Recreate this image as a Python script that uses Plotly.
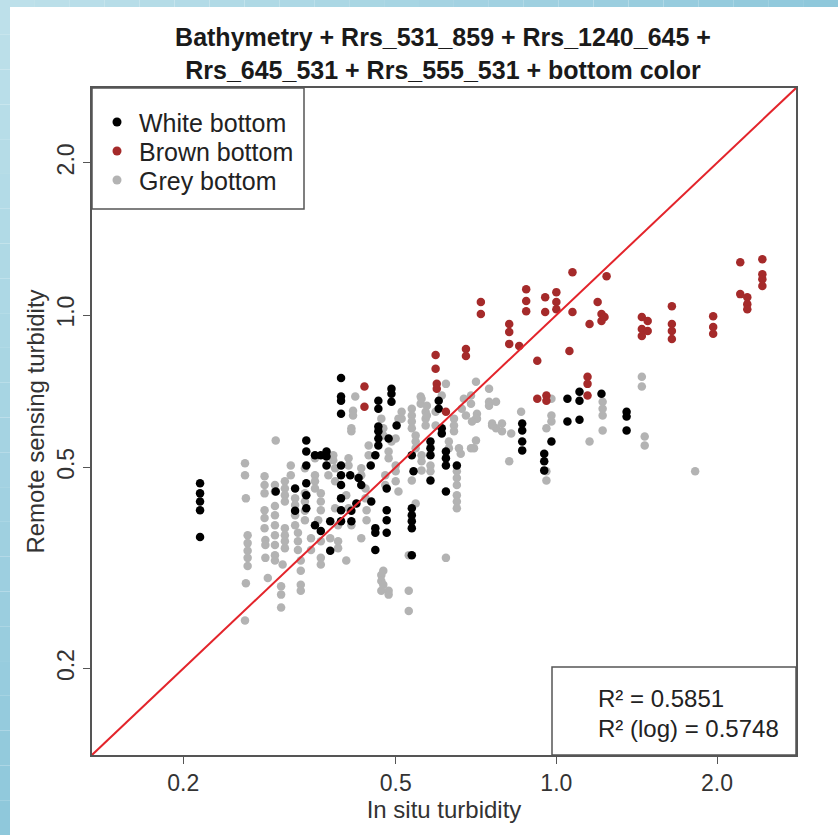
import plotly.graph_objects as go

# ---------------- data ----------------
white_x = [0.215, 0.215, 0.215, 0.215, 0.215,
           0.395, 0.395, 0.395, 0.395,
           0.464, 0.464,
           0.491, 0.491, 0.491,
           0.464, 0.464, 0.464, 0.464,
           0.340, 0.340, 0.340, 0.353, 0.362, 0.371, 0.371, 0.371,
           0.395, 0.395, 0.395,
           0.411, 0.426, 0.431,
           0.449, 0.458,
           0.485, 0.502,
           0.536, 0.540,
           0.581, 0.581, 0.581, 0.581,
           0.602, 0.602,
           0.610, 0.610,
           0.621, 0.621, 0.621, 0.621,
           0.651,
           0.298, 0.324, 0.324,
           0.340, 0.340, 0.340,
           0.353, 0.362, 0.377,
           0.395, 0.395, 0.395,
           0.413, 0.413, 0.422, 0.450,
           0.458, 0.458,
           0.481, 0.481, 0.481, 0.481,
           0.536, 0.536, 0.536, 0.536,
           0.377, 0.458, 0.536,
           0.863, 0.863, 0.863, 0.863,
           0.979,
           0.949, 0.949, 0.949,
           1.049, 1.049,
           1.105, 1.105, 1.105,
           1.215,
           1.354, 1.354, 1.354]
white_y = [0.465, 0.444, 0.428, 0.411, 0.364,
           0.751, 0.690, 0.677, 0.638,
           0.677, 0.653,
           0.715, 0.699, 0.674,
           0.602, 0.589, 0.570, 0.552,
           0.565, 0.537, 0.504, 0.528, 0.528, 0.537, 0.525, 0.504,
           0.504, 0.482, 0.461,
           0.482, 0.476, 0.461,
           0.504, 0.528,
           0.570, 0.605,
           0.528, 0.491,
           0.562, 0.545, 0.528, 0.471,
           0.677, 0.653,
           0.597, 0.583,
           0.537, 0.521, 0.504, 0.448,
           0.504,
           0.448, 0.454, 0.410,
           0.465, 0.440, 0.415,
           0.384, 0.374, 0.391,
           0.434, 0.411, 0.391,
           0.410, 0.391, 0.424, 0.428,
           0.379, 0.371,
           0.411, 0.393, 0.371, 0.454,
           0.415, 0.402, 0.391, 0.379,
           0.342, 0.343, 0.335,
           0.610, 0.591, 0.562, 0.540,
           0.562,
           0.532, 0.514, 0.493,
           0.683, 0.616,
           0.705, 0.677, 0.621,
           0.699,
           0.644, 0.630, 0.591]

brown_x = [0.437, 0.437, 0.594, 0.594, 0.597, 0.597, 0.621,
           0.677, 0.677, 0.722, 0.722,
           0.816, 0.816, 0.816, 0.852,
           0.878, 0.878, 0.878, 0.953, 0.953,
           1.000, 1.000, 1.000, 1.072, 1.072,
           1.242, 1.195, 1.154, 1.215, 1.215, 1.231,
           0.921, 1.058, 1.144, 1.144, 1.144,
           1.446, 1.446, 1.446, 1.483, 1.483,
           1.646, 1.646, 1.646, 1.646,
           1.967, 1.967, 1.967,
           2.211, 2.211, 2.279, 2.279, 2.279,
           2.432, 2.432, 2.432, 2.432,
           0.921, 0.958, 0.958]
brown_y = [0.722, 0.659, 0.834, 0.783, 0.731, 0.715, 0.644,
           0.857, 0.830, 1.061, 1.005,
           0.960, 0.926, 0.877, 0.869,
           1.125, 1.066, 1.018, 1.085, 1.014,
           1.110, 1.061, 1.027, 1.215, 1.014,
           1.193, 1.061, 0.960, 1.005, 0.973, 0.991,
           0.812, 0.849, 0.755, 0.731, 0.693,
           0.991, 0.938, 0.909, 0.973, 0.930,
           1.041, 0.960, 0.930, 0.897,
           0.995, 0.947, 0.918,
           1.272, 1.100, 1.085, 1.051, 1.027,
           1.289, 1.204, 1.177, 1.141,
           0.683, 0.693, 0.677]

grey_x = [0.298, 0.261, 0.261, 0.262, 0.284, 0.284, 0.284,
          0.264, 0.264, 0.264, 0.264, 0.264, 0.262, 0.261,
          0.284, 0.284, 0.284, 0.285, 0.285, 0.285,
          0.297, 0.297, 0.297, 0.297, 0.297, 0.297, 0.297,
          0.305, 0.305, 0.305, 0.288,
          0.310, 0.310, 0.310, 0.310, 0.310, 0.310, 0.310, 0.310,
          0.318, 0.318, 0.324, 0.324, 0.324, 0.324,
          0.328, 0.328, 0.328, 0.332, 0.332, 0.332, 0.332,
          0.338, 0.338, 0.338, 0.338, 0.347, 0.347,
          0.353, 0.353, 0.353, 0.362, 0.362, 0.362, 0.362, 0.362, 0.362,
          0.374, 0.385, 0.385, 0.385, 0.390, 0.390, 0.390, 0.404, 0.377,
          0.382, 0.382, 0.408, 0.408, 0.413, 0.413, 0.416, 0.416, 0.420,
          0.431, 0.431, 0.445, 0.445, 0.439, 0.439, 0.441, 0.441,
          0.470, 0.474, 0.474, 0.485, 0.485, 0.478, 0.478,
          0.491, 0.500, 0.500, 0.500, 0.500, 0.506,
          0.513, 0.513, 0.536, 0.536, 0.536, 0.536,
          0.545, 0.545, 0.545, 0.557, 0.557, 0.559, 0.559,
          0.569, 0.569, 0.569, 0.581, 0.581, 0.594, 0.594, 0.610,
          0.629, 0.629, 0.643, 0.643, 0.643,
          0.651, 0.651, 0.651, 0.651, 0.651, 0.665,
          0.692, 0.692, 0.710, 0.710, 0.748, 0.748, 0.771, 0.758,
          0.353, 0.338, 0.297, 0.297, 0.358, 0.404, 0.408, 0.413, 0.431,
          0.470, 0.470, 0.470, 0.485, 0.485, 0.529, 0.529, 0.529, 0.621, 0.307,
          0.621, 0.707, 0.748, 0.771, 0.671, 0.707, 0.677, 0.758,
          0.791, 0.791, 0.823, 0.707, 0.692, 0.662, 0.651,
          0.816, 0.859, 0.979, 0.979, 0.979, 0.958, 0.958,
          1.154, 1.221, 1.221, 1.221, 1.221,
          1.446, 1.446, 1.464, 1.464, 1.820,
          0.474, 0.474, 0.545, 0.559, 0.536, 0.506, 0.559, 0.572, 0.572,
          0.657, 0.701, 0.695, 0.958]
grey_y = [0.565, 0.509, 0.482, 0.434, 0.480, 0.461, 0.444,
          0.367, 0.354, 0.342, 0.331, 0.319, 0.295, 0.249,
          0.411, 0.397, 0.379, 0.359, 0.351, 0.331,
          0.419, 0.402, 0.384, 0.367, 0.351, 0.335, 0.327,
          0.291, 0.280, 0.264, 0.302,
          0.469, 0.454, 0.440, 0.428, 0.379, 0.367, 0.357, 0.346,
          0.504, 0.482, 0.434, 0.421, 0.402, 0.384,
          0.371, 0.357, 0.343, 0.327, 0.312, 0.293, 0.285,
          0.444, 0.428, 0.410, 0.393, 0.362, 0.343,
          0.482, 0.469, 0.454, 0.444, 0.428, 0.411, 0.357, 0.331, 0.321,
          0.482, 0.498, 0.469, 0.415, 0.384, 0.357, 0.346, 0.327, 0.362,
          0.528, 0.516, 0.521, 0.504, 0.597, 0.589, 0.647, 0.633, 0.690,
          0.498, 0.482, 0.552, 0.528, 0.454, 0.434, 0.411, 0.393,
          0.624, 0.597, 0.578, 0.537, 0.521, 0.482, 0.461,
          0.562, 0.570, 0.504, 0.491, 0.469, 0.448,
          0.644, 0.624, 0.653, 0.633, 0.616, 0.597,
          0.578, 0.562, 0.545, 0.690, 0.668, 0.528, 0.514,
          0.644, 0.624, 0.605, 0.504, 0.491, 0.644, 0.605, 0.693,
          0.562, 0.545, 0.624, 0.605, 0.589,
          0.476, 0.461, 0.440, 0.428, 0.415, 0.653,
          0.693, 0.668, 0.638, 0.624, 0.715, 0.674, 0.597, 0.605,
          0.521, 0.498, 0.461, 0.448, 0.393, 0.440, 0.415, 0.384, 0.362,
          0.306, 0.298, 0.285, 0.285, 0.280, 0.285, 0.260, 0.335, 0.331, 0.321,
          0.731, 0.738, 0.662, 0.674, 0.683, 0.624, 0.633, 0.610,
          0.610, 0.589, 0.583, 0.565, 0.545, 0.532, 0.491,
          0.514, 0.644, 0.683, 0.633, 0.616, 0.491, 0.471,
          0.562, 0.674, 0.653, 0.633, 0.591,
          0.755, 0.722, 0.575, 0.552, 0.491,
          0.312, 0.293, 0.424, 0.493, 0.471, 0.624, 0.683, 0.662, 0.633,
          0.545, 0.545, 0.616, 0.597]

line_x = [0.1, 3.0]
line_y = [0.1, 3.0]

series_names = ["White bottom", "Brown bottom", "Grey bottom"]
series_colors = ["#000000", "#a52a2a", "#b3b3b3"]
r2_text = ["R\u00b2 = 0.5851", "R\u00b2 (log) = 0.5748"]
tick_vals = [0.2, 0.5, 1.0, 2.0]
tick_text = ["0.2", "0.5", "1.0", "2.0"]

# ---------------- figure ----------------
FONT = "Liberation Sans, Arial, Helvetica, sans-serif"
W, H = 838, 835
L, R, T, B = 92, 42, 88, 80
PW, PH = W - L - R, H - T - B


def px2x(px):
    return (px - L) / PW


def px2y(py):
    return (H - B - py) / PH


MS = 8.5
fig = go.Figure()
fig.add_trace(go.Scatter(x=grey_x, y=grey_y, mode="markers", name=series_names[2],
                         marker=dict(color=series_colors[2], size=MS), showlegend=False))
fig.add_trace(go.Scatter(x=white_x, y=white_y, mode="markers", name=series_names[0],
                         marker=dict(color=series_colors[0], size=MS), showlegend=False))
fig.add_trace(go.Scatter(x=brown_x, y=brown_y, mode="markers", name=series_names[1],
                         marker=dict(color=series_colors[1], size=MS), showlegend=False))
fig.add_trace(go.Scatter(x=line_x, y=line_y, mode="lines", showlegend=False,
                         line=dict(color="#e3242b", width=2), hoverinfo="skip"))

shapes = []


def hexmix(c1, c2, t):
    a = [int(c1[i:i + 2], 16) for i in (1, 3, 5)]
    b = [int(c2[i:i + 2], 16) for i in (1, 3, 5)]
    return "#" + "".join("%02x" % round(a[k] + (b[k] - a[k]) * t) for k in range(3))


N = 24
c_start, c_end = "#bde0ea", "#8fc8db"
for i in range(N):
    col = hexmix(c_start, c_end, i / (N - 1))
    shapes.append(dict(type="rect", xref="paper", yref="paper", layer="below",
                       x0=px2x(0), x1=px2x(10),
                       y0=px2y(H * (i + 1) / N), y1=px2y(H * i / N),
                       fillcolor=col, line=dict(width=0)))
    shapes.append(dict(type="rect", xref="paper", yref="paper", layer="below",
                       x0=px2x(W * i / N), x1=px2x(W * (i + 1) / N),
                       y0=px2y(7), y1=px2y(0),
                       fillcolor=col, line=dict(width=0)))

# legend box and R2 box
shapes.append(dict(type="rect", xref="paper", yref="paper",
                   x0=0, x1=px2x(304), y0=px2y(209), y1=1,
                   line=dict(color="#555555", width=1.5), fillcolor="white"))
shapes.append(dict(type="rect", xref="paper", yref="paper",
                   x0=px2x(552), x1=1, y0=0, y1=px2y(667),
                   line=dict(color="#555555", width=1.5), fillcolor="white"))

annotations = []
# legend entries (key dots + labels)
row_y = [122, 151, 180]
for name, col, ry in zip(series_names, series_colors, row_y):
    shapes.append(dict(type="circle", xref="paper", yref="paper",
                       x0=px2x(117 - 4.5), x1=px2x(117 + 4.5),
                       y0=px2y(ry + 4.5), y1=px2y(ry - 4.5),
                       fillcolor=col, line=dict(width=0)))
    annotations.append(dict(text=name, xref="paper", yref="paper",
                            x=px2x(137), y=px2y(ry + 1),
                            xanchor="left", yanchor="middle", showarrow=False,
                            font=dict(family=FONT, size=25, color="#222222")))

for txt, ry in zip(r2_text, [698, 728]):
    annotations.append(dict(text=txt, xref="paper", yref="paper", x=px2x(596), y=px2y(ry),
                            xanchor="left", yanchor="middle", showarrow=False,
                            font=dict(family=FONT, size=24, color="#222222")))

axis_common = dict(type="log", tickvals=tick_vals, ticktext=tick_text,
                   ticks="outside", ticklen=7, tickwidth=1, tickcolor="#555555",
                   showline=True, mirror=True, linecolor="#555555", linewidth=1.5,
                   showgrid=False, zeroline=False, range=[-0.87, 0.449],
                   tickfont=dict(family=FONT, size=23, color="#333333"))

fig.update_layout(
    width=W, height=H,
    margin=dict(l=L, r=R, t=T, b=B, autoexpand=False),
    paper_bgcolor="white", plot_bgcolor="white",
    title=dict(text="<b>Bathymetry + Rrs_531_859 + Rrs_1240_645 +<br>"
                    "Rrs_645_531 + Rrs_555_531 + bottom color</b>",
               x=px2x(443), xref="paper", xanchor="center",
               y=(H - 46) / H, yref="container", yanchor="middle",
               font=dict(family=FONT, size=25, color="#1a1a1a")),
    xaxis=dict(axis_common,
               title=dict(text="In situ turbidity", standoff=6,
                          font=dict(family=FONT, size=24, color="#333333"))),
    yaxis=dict(axis_common, tickangle=-90,
               title=dict(text="Remote sensing turbidity", standoff=2,
                          font=dict(family=FONT, size=24, color="#333333"))),
    shapes=shapes, annotations=annotations,
    showlegend=False,
)

fig.write_html("out.html")
